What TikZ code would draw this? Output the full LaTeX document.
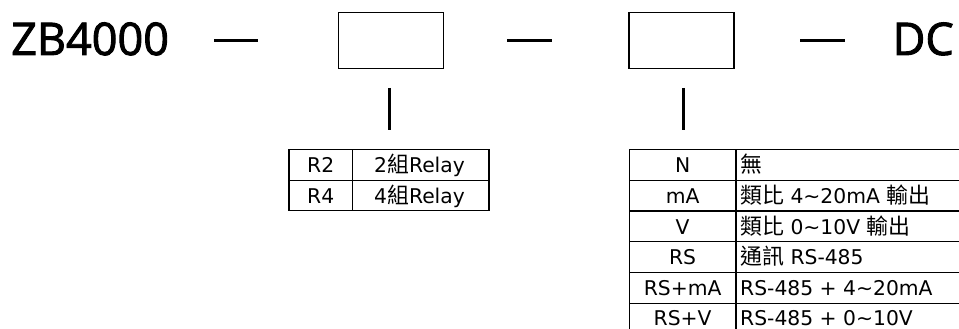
\documentclass[tikz,border=0pt]{standalone}
\usepackage{fontspec}
\setmainfont{Open Sans}
\newfontfamily\cjk{Noto Sans CJK TC}[Scale=1.08]
\newfontfamily\tablefont{DejaVu Sans}
\newfontfamily\titlefont{Open Sans}[FakeBold=2]
\newcommand{\wavy}{{\char`\~}}

\begin{document}
\begin{tikzpicture}[x=1pt,y=-1pt,
  heavy/.style={line width=3pt},
  frame/.style={line width=1.5pt},
  rule/.style={line width=1.4pt},
  big/.style={font=\titlefont\fontsize{45}{45}\selectfont, inner sep=0pt},
  cell/.style={font=\tablefont\fontsize{20.3}{20.3}\selectfont, inner sep=0pt},
  code/.style={cell, anchor=base},
  desc/.style={cell, anchor=base west},
  blank/.style={draw, frame, minimum width=105pt, minimum height=56pt, inner sep=0pt}]
\useasboundingbox (0,0) rectangle (959,329);
\clip (0,0) rectangle (959,329);

% ---- ordering code line ----
\node[big, anchor=base west] (model) at (11,55) {ZB4000};
\node[big, anchor=base east] (dc) at (954,55) {DC};
\node[blank] (box1) at (391,40.5) {};
\node[blank] (box2) at (681.5,40.5) {};

\coordinate (d1a) at (214,41); \coordinate (d1b) at (258,41);
\coordinate (d2a) at (507,41); \coordinate (d2b) at (552,41);
\coordinate (d3a) at (800,41); \coordinate (d3b) at (845,41);
\draw[heavy] (d1a) -- (d1b);
\draw[heavy] (d2a) -- (d2b);
\draw[heavy] (d3a) -- (d3b);

\coordinate (v1a) at (389,88); \coordinate (v1b) at (389,130);
\coordinate (v2a) at (683,88); \coordinate (v2b) at (683,130);
\draw[heavy] (v1a) -- (v1b);
\draw[heavy] (v2a) -- (v2b);

% ---- relay option table ----
\draw[rule] (289,149.3) rectangle (489,210.7);
\draw[rule] (289,180.2) -- (489,180.2);
\draw[rule] (352.5,149.3) -- (352.5,210.7);
\node[code] (r2) at (320.7,172.6) {R2};
\node[code] (r2d) at (419.5,172.6) {2{\cjk 組}Relay};
\node[code] (r4) at (320.7,203.3) {R4};
\node[code] (r4d) at (419.5,203.3) {4{\cjk 組}Relay};

% ---- output option table ----
\draw[rule] (629.3,149.3) -- (1000,149.3);
\foreach \yy in {180.3,211,241.7,272.7,303.3} \draw[rule] (629.3,\yy) -- (1000,\yy);
\draw[rule] (629.3,149.3) -- (629.3,340);
\draw[rule] (736,149.3) -- (736,340);

\node[code] (o1) at (682.6,172.6) {N};
\node[code] (o2) at (682.6,203.3) {mA};
\node[code] (o3) at (682.6,234) {V};
\node[code] (o4) at (682.6,264.7) {RS};
\node[code] (o5) at (682.6,295.5) {RS+mA};
\node[code] (o6) at (682.6,325.8) {RS+V};

\node[desc] (o1d) at (740,172.6) {\cjk 無};
\node[desc] (o2d) at (740,203.3) {{\cjk 類比} 4\wavy20mA {\cjk 輸出}};
\node[desc] (o3d) at (740,234) {{\cjk 類比} 0\wavy10V {\cjk 輸出}};
\node[desc] (o4d) at (740,264.7) {{\cjk 通訊} RS-485};
\node[desc] (o5d) at (740,295.5) {RS-485 + 4\wavy20mA};
\node[desc] (o6d) at (740,325.8) {RS-485 + 0\wavy10V};
\end{tikzpicture}
\end{document}
